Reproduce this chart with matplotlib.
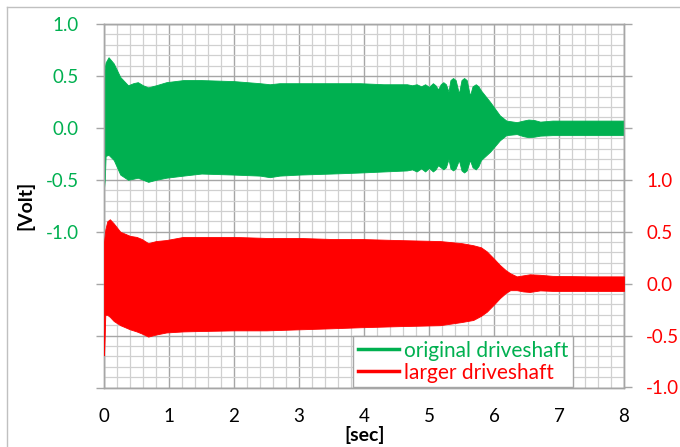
import matplotlib
matplotlib.use("Agg")
import matplotlib.pyplot as plt
from matplotlib.ticker import MultipleLocator, FuncFormatter
from matplotlib.lines import Line2D

plt.rcParams['font.family'] = ['Lato', 'DejaVu Sans']
plt.rcParams['axes.unicode_minus'] = False

GREEN = '#00B050'
RED = '#FF0000'

# Envelope of the vibration signal, original driveshaft [Volt]
t_orig = [0.000, 0.012, 0.025, 0.07, 0.15, 0.25, 0.37, 0.45, 0.52, 0.60,
          0.68, 0.80, 0.96, 1.22, 1.50, 2.00, 2.40, 2.55, 2.70, 3.00,
          3.50, 3.94, 4.30, 4.66, 4.74, 4.81, 4.88, 4.94, 5.00, 5.06,
          5.10, 5.14, 5.18, 5.22, 5.26, 5.30, 5.33, 5.37, 5.41, 5.46,
          5.50, 5.54, 5.58, 5.63, 5.67, 5.72, 5.76, 5.80, 5.94, 6.09,
          6.19, 6.35, 6.45, 6.53, 6.62, 6.71, 6.90, 7.50, 8.00]
orig_upper = [0.52, 0.58, 0.63, 0.68, 0.62, 0.49, 0.41, 0.43, 0.44, 0.41,
              0.39, 0.41, 0.44, 0.46, 0.46, 0.45, 0.43, 0.42, 0.43, 0.43,
              0.43, 0.43, 0.42, 0.42, 0.41, 0.42, 0.40, 0.42, 0.395, 0.43,
              0.41, 0.37, 0.42, 0.44, 0.42, 0.35, 0.46, 0.48, 0.46, 0.33,
              0.46, 0.48, 0.46, 0.31, 0.40, 0.42, 0.40, 0.36, 0.25, 0.12,
              0.07, 0.055, 0.07, 0.08, 0.075, 0.06, 0.07, 0.07, 0.07]
orig_lower = [-0.58, -0.50, -0.27, -0.26, -0.31, -0.45, -0.50, -0.49, -0.48, -0.50,
              -0.52, -0.50, -0.48, -0.46, -0.44, -0.45, -0.46, -0.475, -0.46, -0.45,
              -0.44, -0.43, -0.42, -0.41, -0.40, -0.42, -0.39, -0.42, -0.385, -0.42,
              -0.40, -0.36, -0.38, -0.40, -0.38, -0.30, -0.39, -0.41, -0.39, -0.31,
              -0.41, -0.43, -0.41, -0.31, -0.38, -0.40, -0.37, -0.31, -0.23, -0.12,
              -0.07, -0.06, -0.08, -0.09, -0.085, -0.075, -0.07, -0.07, -0.07]

# Envelope of the vibration signal, larger driveshaft [Volt]
t_large = [0.000, 0.008, 0.02, 0.05, 0.09, 0.15, 0.25, 0.40, 0.50, 0.58,
           0.68, 0.80, 0.96, 1.22, 1.50, 2.00, 2.50, 3.00, 3.50, 3.94,
           4.50, 5.17, 5.50, 5.68, 5.80, 5.89, 6.00, 6.09, 6.18, 6.25,
           6.35, 6.45, 6.55, 6.71, 6.90, 7.50, 8.00]
large_upper = [0.40, 0.45, 0.52, 0.60, 0.62, 0.58, 0.50, 0.46, 0.45, 0.43,
               0.39, 0.41, 0.42, 0.45, 0.45, 0.45, 0.44, 0.44, 0.43, 0.43,
               0.42, 0.41, 0.39, 0.37, 0.35, 0.31, 0.24, 0.18, 0.13, 0.10,
               0.07, 0.08, 0.09, 0.085, 0.075, 0.07, 0.07]
large_lower = [-0.69, -0.55, -0.30, -0.30, -0.32, -0.36, -0.40, -0.44, -0.46, -0.48,
               -0.51, -0.49, -0.47, -0.46, -0.456, -0.45, -0.45, -0.44, -0.43, -0.42,
               -0.41, -0.40, -0.37, -0.35, -0.31, -0.27, -0.20, -0.14, -0.09, -0.063,
               -0.063, -0.075, -0.08, -0.065, -0.07, -0.07, -0.07]

x_ticks = [0, 1, 2, 3, 4, 5, 6, 7, 8]
series_names = ['original driveshaft', 'larger driveshaft']

W, H = 680, 447
fig = plt.figure(figsize=(W / 100, H / 100), dpi=100)
ax = fig.add_axes([104 / W, 1 - 387.5 / H, 520 / W, 363.5 / H])
ax2 = ax.twinx()

ax.fill_between(t_orig, orig_lower, orig_upper, color=GREEN, lw=0.6, ec=GREEN, zorder=3)
ax2.fill_between(t_large, large_lower, large_upper, color=RED, lw=0.6, ec=RED, zorder=3)

ax.set_xlim(0, 8)
ax.set_ylim(-2.5, 1.0)
ax2.set_ylim(-1.0, 2.5)

ax.set_xticks(x_ticks)
ax.xaxis.set_minor_locator(MultipleLocator(0.2))
ax.yaxis.set_major_locator(MultipleLocator(0.5))
ax.yaxis.set_minor_locator(MultipleLocator(0.1))
ax2.yaxis.set_major_locator(MultipleLocator(0.5))

ax.yaxis.set_major_formatter(FuncFormatter(lambda v, p: f'{v:.1f}' if v >= -1.0 - 1e-9 else ''))
ax2.yaxis.set_major_formatter(FuncFormatter(lambda v, p: f'{v:.1f}' if v <= 1.0 + 1e-9 else ''))

ax.grid(which='major', color='#a6a6a6', lw=1.0, zorder=0)
ax.grid(which='minor', color='#d0d0d0', lw=0.9, zorder=0)
ax.set_axisbelow(True)

for a in (ax, ax2):
    for s in a.spines.values():
        s.set_color('#a6a6a6')
        s.set_linewidth(1.0)

FS = 13.5
ax.tick_params(axis='x', which='both', length=0, pad=15, labelsize=FS, labelcolor='black')
ax.tick_params(axis='y', which='major', length=6, width=1.0, color='#a6a6a6', direction='out',
               pad=12, labelsize=FS, labelcolor=GREEN)
ax.tick_params(axis='y', which='minor', length=0)
ax2.tick_params(axis='y', which='major', length=6, width=1.0, color='#a6a6a6', direction='out',
                pad=10, labelsize=FS, labelcolor=RED)
ax2.tick_params(axis='y', which='minor', length=0)

fig.text(25 / W, 1 - 205 / H, '[Volt]', rotation=90, ha='center', va='center',
         fontsize=14, fontweight='bold')
fig.text(365 / W, 1 - 435 / H, '[sec]', ha='center', va='center',
         fontsize=14, fontweight='bold')

handles = [Line2D([], [], color=GREEN, lw=2.5), Line2D([], [], color=RED, lw=2.5)]
leg = ax2.legend(handles, series_names, loc='upper left',
                 bbox_to_anchor=(353 / W, 1 - 336 / H), bbox_transform=fig.transFigure,
                 fancybox=False, framealpha=1, edgecolor='#a6a6a6', fontsize=15,
                 borderaxespad=0, handlelength=2.0, handletextpad=0.25,
                 borderpad=0.22, labelspacing=0.1)
leg.get_frame().set_linewidth(1.0)
for txt, c in zip(leg.get_texts(), [GREEN, RED]):
    txt.set_color(c)

# outer chart border
fig.add_artist(Line2D([7 / W, 7 / W], [0, 1 - 7 / H], transform=fig.transFigure,
                      color='#c0c0c0', lw=1.0))
fig.add_artist(Line2D([7 / W, 1], [1 - 7 / H, 1 - 7 / H], transform=fig.transFigure,
                      color='#c0c0c0', lw=1.0))

fig.savefig('out.png', dpi=100)
